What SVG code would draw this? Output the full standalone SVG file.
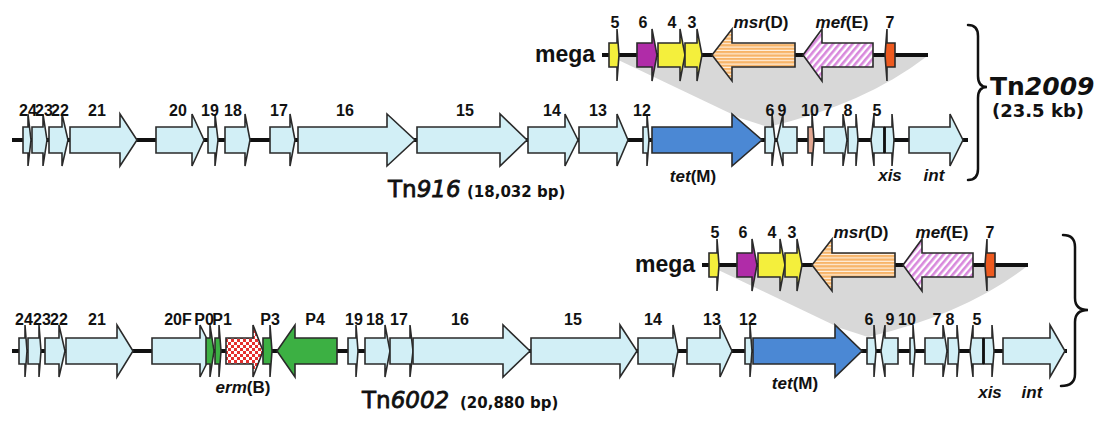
<svg xmlns="http://www.w3.org/2000/svg" width="1104" height="425" viewBox="0 0 1104 425">
  <style>
    .bb { stroke: #111; stroke-width: 4; fill: none; }
    .g polygon { stroke: #2a2a2a; stroke-width: 1.6; stroke-linejoin: miter; }
    .lb { fill: #d2eff6; }
    .blue { fill: #4b88d4; }
    .yel { fill: #f4ef3c; }
    .mag { fill: #b02ca8; }
    .red { fill: #ee5a1f; }
    .grn { fill: #3cb043; }
    .pinkish { fill: #e2a791; }
    .msr { fill: url(#hstripe); }
    .mef { fill: url(#dstripe); }
    .erm { fill: url(#check); }
    .shade { fill: #d8d8d8; }
    .num { font-family: "Liberation Sans", Arial, sans-serif; font-weight: bold; font-size: 16px; text-anchor: middle; fill: #111; }
    .gl { font-family: "Liberation Sans", Arial, sans-serif; font-weight: bold; font-size: 17px; text-anchor: middle; fill: #111; }
    .it { font-style: italic; }
    .mega { font-family: "Liberation Sans", Arial, sans-serif; font-weight: bold; font-size: 23px; fill: #111; }
    .tn { font-family: "DejaVu Sans", Verdana, sans-serif; fill: #111; }
    .semi { stroke: #111; stroke-width: 0.8; }
    .bold { font-weight: bold; }
    .brace { fill: none; stroke: #111; stroke-width: 2.5; stroke-linecap: round; }
  </style>
  <defs>
    <pattern id="hstripe" patternUnits="userSpaceOnUse" width="8" height="3.4">
      <rect width="8" height="3.4" fill="#f7b468"/>
      <rect y="2.3" width="8" height="1.1" fill="#fff3e6"/>
    </pattern>
    <pattern id="dstripe" patternUnits="userSpaceOnUse" width="5" height="8" patternTransform="rotate(40)">
      <rect width="5" height="8" fill="#ffffff"/>
      <rect width="2.6" height="8" fill="#d888dc"/>
    </pattern>
    <pattern id="check" patternUnits="userSpaceOnUse" width="6" height="6">
      <rect width="6" height="6" fill="#ffffff"/>
      <rect width="3" height="3" fill="#e5302e"/>
      <rect x="3" y="3" width="3" height="3" fill="#e5302e"/>
    </pattern>
  </defs>

  <!-- insertion wedges linking mega elements to their target sites -->
  <g id="wedges">
    <path class="shade" d="M612,57 L926,57 Q865,104 768,127 L740,118 Z"/>
    <path class="shade" d="M712,267 L1026,267 Q965,314 868,337 L840,328 Z"/>
  </g>

  <!-- backbone lines -->
  <g id="connectors">
    <line class="bb" x1="602" y1="55" x2="928" y2="55"/>
    <line class="bb" x1="12" y1="140" x2="968" y2="140"/>
    <line class="bb" x1="702" y1="265" x2="1028" y2="265"/>
    <line class="bb" x1="12" y1="351" x2="1067" y2="351"/>
  </g>

  <!-- mega element (upper) -->
  <g id="megaA" class="g">
    <text class="mega" x="535" y="62">mega</text>
    <g id="megaA-5"><polygon class="yel" points="609,43 617,43 617,29 619,55 617,81 617,67 609,67"/><text class="num" x="615" y="28">5</text></g>
    <g id="megaA-6"><polygon class="mag" points="637,43 652,43 652,29 657,55 652,81 652,67 637,67"/><text class="num" x="643" y="28">6</text></g>
    <g id="megaA-4"><polygon class="yel" points="658,43 680,43 680,29 685,55 680,81 680,67 658,67"/><text class="num" x="672" y="28">4</text></g>
    <g id="megaA-3"><polygon class="yel" points="685,43 697,43 697,29 702,55 697,81 697,67 685,67"/><text class="num" x="692" y="28">3</text></g>
    <g id="megaA-msrD"><polygon class="msr" points="795,43 732,43 732,29 712,55 732,81 732,67 795,67"/><text class="gl" x="761" y="28"><tspan class="it">msr</tspan>(D)</text></g>
    <g id="megaA-mefE"><polygon class="mef" points="873,43 822,43 822,29 803,55 822,81 822,67 873,67"/><text class="gl" x="842" y="28"><tspan class="it">mef</tspan>(E)</text></g>
    <g id="megaA-7"><polygon class="red" points="895,43 887,43 887,29 885,55 887,81 887,67 895,67"/><text class="num" x="890" y="28">7</text></g>
  </g>

  <!-- Tn916 -->
  <g id="tn916" class="g">
    <g id="t916-24"><polygon class="lb" points="23,127 28,127 28,114 31,140 28,166 28,153 23,153"/><text class="num" x="28" y="116">24</text></g>
    <g id="t916-23"><polygon class="lb" points="32,127 43,127 43,114 47,140 43,166 43,153 32,153"/><text class="num" x="44" y="116">23</text></g>
    <g id="t916-22"><polygon class="lb" points="49,127 62,127 62,114 68,140 62,166 62,153 49,153"/><text class="num" x="60" y="116">22</text></g>
    <g id="t916-21"><polygon class="lb" points="70,127 120,127 120,114 137,140 120,166 120,153 70,153"/><text class="num" x="97" y="116">21</text></g>
    <g id="t916-20"><polygon class="lb" points="156,127 192,127 192,114 204,140 192,166 192,153 156,153"/><text class="num" x="178" y="116">20</text></g>
    <g id="t916-19"><polygon class="lb" points="208,127 215,127 215,114 218,140 215,166 215,153 208,153"/><text class="num" x="210" y="116">19</text></g>
    <g id="t916-18"><polygon class="lb" points="225,127 245,127 245,114 250,140 245,166 245,153 225,153"/><text class="num" x="233" y="116">18</text></g>
    <g id="t916-17"><polygon class="lb" points="270,127 290,127 290,114 295,140 290,166 290,153 270,153"/><text class="num" x="279" y="116">17</text></g>
    <g id="t916-16"><polygon class="lb" points="298,127 387,127 387,114 415,140 387,166 387,153 298,153"/><text class="num" x="345" y="116">16</text></g>
    <g id="t916-15"><polygon class="lb" points="417,127 500,127 500,114 527,140 500,166 500,153 417,153"/><text class="num" x="465" y="116">15</text></g>
    <g id="t916-14"><polygon class="lb" points="528,127 565,127 565,114 578,140 565,166 565,153 528,153"/><text class="num" x="552" y="116">14</text></g>
    <g id="t916-13"><polygon class="lb" points="579,127 617,127 617,114 628,140 617,166 617,153 579,153"/><text class="num" x="598" y="116">13</text></g>
    <g id="t916-12"><polygon class="lb" points="643,127 647,127 647,114 649,140 647,166 647,153 643,153"/><text class="num" x="642" y="116">12</text></g>
    <g id="t916-tetM"><polygon class="blue" points="652,127 732,127 732,114 762,140 732,166 732,153 652,153"/><text class="gl" x="693" y="182"><tspan class="it">tet</tspan>(M)</text></g>
    <g id="t916-6"><polygon class="lb" points="765,127 772,127 772,114 775,140 772,166 772,153 765,153"/><text class="num" x="770" y="116">6</text></g>
    <g id="t916-9"><polygon class="lb" points="797,127 783,127 783,114 777,140 783,166 783,153 797,153"/><text class="num" x="782" y="116">9</text></g>
    <g id="t916-10"><polygon class="pinkish" points="808,127 812,127 812,114 814,140 812,166 812,153 808,153"/><text class="num" x="810" y="116">10</text></g>
    <g id="t916-7"><polygon class="lb" points="824,127 843,127 843,114 847,140 843,166 843,153 824,153"/><text class="num" x="828" y="116">7</text></g>
    <g id="t916-8"><polygon class="lb" points="848,127 856,127 856,114 858,140 856,166 856,153 848,153"/><text class="num" x="848" y="116">8</text></g>
    <g id="t916-5"><polygon class="lb" points="884,127 874,127 874,114 871,140 874,166 874,153 884,153"/><text class="num" x="877" y="116">5</text></g>
    <g id="t916-xis"><polygon class="lb" points="885,127 892,127 892,114 894,140 892,166 892,153 885,153"/><line x1="884.5" y1="127" x2="884.5" y2="153" stroke="#111" stroke-width="2.5"/><text class="gl it" x="890" y="181">xis</text></g>
    <g id="t916-int"><polygon class="lb" points="909,127 950,127 950,114 963,140 950,166 950,153 909,153"/><text class="gl it" x="934" y="181">int</text></g>
    <text class="tn semi" x="388" y="197" font-size="23">Tn<tspan class="it">916</tspan></text>
    <text class="tn bold" x="467" y="197" font-size="15">(18,032 bp)</text>
  </g>

  <!-- Tn2009 bracket -->
  <g id="tn2009">
    <path class="brace" d="M968,25 Q978,25 978,36 L978,76 Q978,87 987,87 Q978,87 978,98 L978,169 Q978,180 968,180"/>
    <text class="tn bold" x="990" y="95" font-size="25">Tn<tspan class="it">2009</tspan></text>
    <text class="tn bold" x="992" y="117" font-size="18">(23.5 kb)</text>
  </g>

  <!-- mega element (lower) -->
  <g id="megaB" class="g">
    <text class="mega" x="635" y="272">mega</text>
    <g id="megaB-5"><polygon class="yel" points="709,253 717,253 717,239 719,265 717,291 717,277 709,277"/><text class="num" x="715" y="238">5</text></g>
    <g id="megaB-6"><polygon class="mag" points="737,253 752,253 752,239 757,265 752,291 752,277 737,277"/><text class="num" x="743" y="238">6</text></g>
    <g id="megaB-4"><polygon class="yel" points="758,253 780,253 780,239 785,265 780,291 780,277 758,277"/><text class="num" x="772" y="238">4</text></g>
    <g id="megaB-3"><polygon class="yel" points="785,253 797,253 797,239 802,265 797,291 797,277 785,277"/><text class="num" x="792" y="238">3</text></g>
    <g id="megaB-msrD"><polygon class="msr" points="895,253 832,253 832,239 812,265 832,291 832,277 895,277"/><text class="gl" x="861" y="238"><tspan class="it">msr</tspan>(D)</text></g>
    <g id="megaB-mefE"><polygon class="mef" points="973,253 922,253 922,239 903,265 922,291 922,277 973,277"/><text class="gl" x="942" y="238"><tspan class="it">mef</tspan>(E)</text></g>
    <g id="megaB-7"><polygon class="red" points="995,253 987,253 987,239 985,265 987,291 987,277 995,277"/><text class="num" x="990" y="238">7</text></g>
  </g>

  <!-- Tn6002 -->
  <g id="tn6002" class="g">
    <g id="t6002-24"><polygon class="lb" points="19,338 25,338 25,325 27,351 25,377 25,364 19,364"/><text class="num" x="24" y="325">24</text></g>
    <g id="t6002-23"><polygon class="lb" points="28,338 39,338 39,325 41,351 39,377 39,364 28,364"/><text class="num" x="42" y="325">23</text></g>
    <g id="t6002-22"><polygon class="lb" points="45,338 59,338 59,325 65,351 59,377 59,364 45,364"/><text class="num" x="59" y="325">22</text></g>
    <g id="t6002-21"><polygon class="lb" points="66,338 117,338 117,325 133,351 117,377 117,364 66,364"/><text class="num" x="97" y="325">21</text></g>
    <g id="t6002-20F"><polygon class="lb" points="152,338 200,338 200,325 213,351 200,377 200,364 152,364"/><text class="num" x="178" y="325">20F</text></g>
    <g id="t6002-P0"><polygon class="grn" points="206,338 210,338 210,325 214,351 210,377 210,364 206,364"/><text class="num" x="204" y="325">P0</text></g>
    <g id="t6002-P1"><polygon class="grn" points="215,338 219,338 219,325 221,351 219,377 219,364 215,364"/><text class="num" x="222" y="325">P1</text></g>
    <g id="t6002-ermB"><polygon class="erm" points="226,338 253,338 253,325 263,351 253,377 253,364 226,364"/><text class="gl" x="243" y="393"><tspan class="it">erm</tspan>(B)</text></g>
    <g id="t6002-P3"><polygon class="grn" points="263,338 270,338 270,325 272,351 270,377 270,364 263,364"/><text class="num" x="270" y="325">P3</text></g>
    <g id="t6002-P4"><polygon class="grn" points="337,338 295,338 295,325 277,351 295,377 295,364 337,364"/><text class="num" x="315" y="325">P4</text></g>
    <g id="t6002-19"><polygon class="lb" points="348,338 356,338 356,325 358,351 356,377 356,364 348,364"/><text class="num" x="354" y="325">19</text></g>
    <g id="t6002-18"><polygon class="lb" points="365,338 385,338 385,325 390,351 385,377 385,364 365,364"/><text class="num" x="375" y="325">18</text></g>
    <g id="t6002-17"><polygon class="lb" points="390,338 410,338 410,325 413,351 410,377 410,364 390,364"/><text class="num" x="399" y="325">17</text></g>
    <g id="t6002-16"><polygon class="lb" points="413,338 503,338 503,325 530,351 503,377 503,364 413,364"/><text class="num" x="460" y="325">16</text></g>
    <g id="t6002-15"><polygon class="lb" points="531,338 620,338 620,325 637,351 620,377 620,364 531,364"/><text class="num" x="573" y="325">15</text></g>
    <g id="t6002-14"><polygon class="lb" points="638,338 673,338 673,325 678,351 673,377 673,364 638,364"/><text class="num" x="653" y="325">14</text></g>
    <g id="t6002-13"><polygon class="lb" points="687,338 720,338 720,325 732,351 720,377 720,364 687,364"/><text class="num" x="712" y="325">13</text></g>
    <g id="t6002-12"><polygon class="lb" points="745,338 750,338 750,325 752,351 750,377 750,364 745,364"/><text class="num" x="748" y="325">12</text></g>
    <g id="t6002-tetM"><polygon class="blue" points="753,338 835,338 835,325 862,351 835,377 835,364 753,364"/><text class="gl" x="795" y="389"><tspan class="it">tet</tspan>(M)</text></g>
    <g id="t6002-6"><polygon class="lb" points="867,338 874,338 874,325 876,351 874,377 874,364 867,364"/><text class="num" x="869" y="325">6</text></g>
    <g id="t6002-9"><polygon class="lb" points="898,338 885,338 885,325 881,351 885,377 885,364 898,364"/><text class="num" x="890" y="325">9</text></g>
    <g id="t6002-10"><polygon class="lb" points="910,338 913,338 913,325 915,351 913,377 913,364 910,364"/><text class="num" x="907" y="325">10</text></g>
    <g id="t6002-7"><polygon class="lb" points="925,338 943,338 943,325 947,351 943,377 943,364 925,364"/><text class="num" x="937" y="325">7</text></g>
    <g id="t6002-8"><polygon class="lb" points="948,338 957,338 957,325 959,351 957,377 957,364 948,364"/><text class="num" x="950" y="325">8</text></g>
    <g id="t6002-5"><polygon class="lb" points="983,338 973,338 973,325 970,351 973,377 973,364 983,364"/><text class="num" x="977" y="325">5</text></g>
    <g id="t6002-xis"><polygon class="lb" points="984,338 992,338 992,325 994,351 992,377 992,364 984,364"/><line x1="983.5" y1="338" x2="983.5" y2="364" stroke="#111" stroke-width="2.5"/><text class="gl it" x="990" y="398">xis</text></g>
    <g id="t6002-int"><polygon class="lb" points="1003,338 1050,338 1050,325 1065,351 1050,377 1050,364 1003,364"/><text class="gl it" x="1032" y="398">int</text></g>
    <text class="tn semi" x="362" y="408" font-size="23">Tn<tspan class="it">6002</tspan></text>
    <text class="tn bold" x="460" y="408" font-size="15">(20,880 bp)</text>
  </g>

  <!-- lower bracket -->
  <g id="bracket2">
    <path class="brace" d="M1063,235 Q1075,235 1075,247 L1075,298 Q1075,310 1088,310 Q1075,310 1075,322 L1075,374 Q1075,386 1061,386"/>
  </g>
</svg>
